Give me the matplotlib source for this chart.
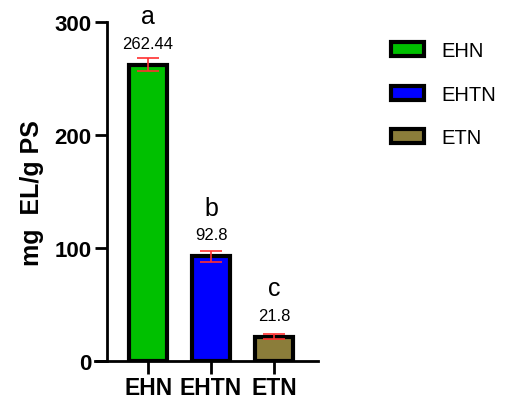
import matplotlib.pyplot as plt
import matplotlib.patches as mpatches
import numpy as np

plt.rcParams['font.family'] = ['Liberation Sans', 'DejaVu Sans']

# data
groups = ['EHN', 'EHTN', 'ETN']
means = [262.44, 92.8, 21.8]
errors = [6.0, 5.0, 2.0]
letters = ['a', 'b', 'c']
value_labels = ['262.44', '92.8', '21.8']
colors = ['#00c000', '#0000ff', '#8b7d3a']
yticks = [0, 100, 200, 300]

fig = plt.figure(figsize=(5.09, 4.06), dpi=100)
ax = fig.add_axes([0.187, 0.108, 0.438, 0.835])

# spine placement first, it resets tick styling
ax.spines['top'].set_visible(False)
ax.spines['right'].set_visible(False)
ax.spines['left'].set_position(('data', -0.65))
ax.spines['left'].set_linewidth(2)
ax.spines['bottom'].set_linewidth(2)

x = np.arange(len(groups))
ax.bar(x, means, width=0.6, color=colors, edgecolor='black', linewidth=3, zorder=2)
ax.errorbar(x, means, yerr=errors, fmt='none', ecolor='#ff3030', elinewidth=1.2,
            capsize=8, capthick=1.2, zorder=3)

for xi, m, lt, vl in zip(x, means, letters, value_labels):
    ax.text(xi, m + 19, vl, ha='center', va='center', fontsize=12)
    ax.text(xi, m + 43, lt, ha='center', va='center', fontsize=18)

ax.set_xlim(-0.84, 2.7)
ax.set_ylim(0, 300)
ax.tick_params(axis='both', width=2, length=9, pad=2)
ax.set_yticks(yticks)
ax.set_yticklabels([str(t) for t in yticks], fontsize=16, fontweight='bold')
ax.set_xticks(x)
ax.set_xticklabels(groups, fontsize=16.5, fontweight='bold')
ax.set_ylabel('mg  EL/g PS', fontsize=18, fontweight='bold', labelpad=8)

handles = [mpatches.Patch(facecolor=c, edgecolor='black', linewidth=3, label=g)
           for c, g in zip(colors, groups)]
fig.legend(handles=handles, loc='upper left', bbox_to_anchor=(0.733, 0.94),
           frameon=False, fontsize=14.5, handlelength=1.65, handleheight=0.7,
           labelspacing=1.2, handletextpad=0.85)

fig.savefig('out.png', dpi=100)
